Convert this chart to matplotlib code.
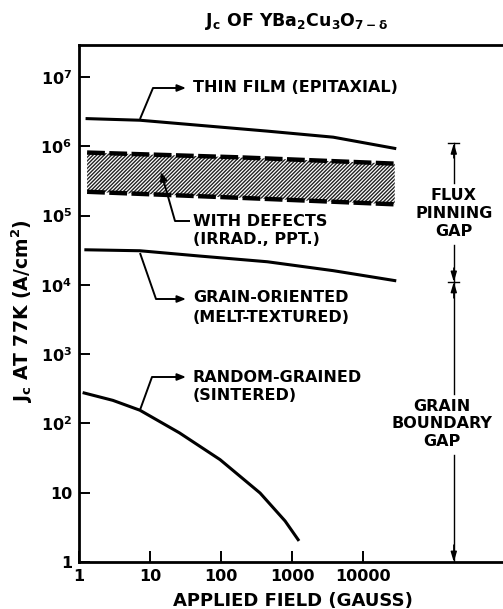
import numpy as np
import matplotlib
matplotlib.use("Agg")
import matplotlib.pyplot as plt

plt.rcParams["font.family"] = ["DejaVu Sans"]
plt.rcParams["font.weight"] = "bold"
plt.rcParams["axes.labelweight"] = "bold"
plt.rcParams["mathtext.default"] = "bf"
plt.rcParams["hatch.linewidth"] = 1.0

# values (field in gauss, Jc in A/cm^2)
thin_field = [1.3, 7.2, 50, 450, 3800, 28000]
thin_jc = [2.5e6, 2.37e6, 2.0e6, 1.65e6, 1.35e6, 9.3e5]

defect_field = [1.3, 185, 28000]
defect_hi = [8.1e5, 6.9e5, 5.6e5]
defect_lo = [2.2e5, 1.8e5, 1.45e5]

oriented_field = [1.25, 7.2, 50, 450, 3800, 28000]
oriented_jc = [3.2e4, 3.1e4, 2.6e4, 2.15e4, 1.6e4, 1.15e4]

random_field = [1.18, 3, 7.2, 26, 97, 355, 800, 1220]
random_jc = [275, 215, 155, 73, 30, 9.9, 3.9, 2.1]

x_ticks = [1, 10, 100, 1000, 10000]
x_labels = ["1", "10", "100", "1000", "10000"]
y_ticks = [1, 10, 1e2, 1e3, 1e4, 1e5, 1e6, 1e7]
y_labels = ["1", "10", "$10^2$", "$10^3$", "$10^4$", "$10^5$", "$10^6$", "$10^7$"]

flux_gap = (1.1e4, 1.1e6)
grain_gap = (1, 1.1e4)
gap_field = 1.9e5

# pixel layout of the reference plot
X0, XDEC = 79, 71.0
Y0, YDEC = 562, 69.3


def px(x, y):
    # reference pixel position -> data coordinates
    return 10 ** ((x - X0) / XDEC), 10 ** ((Y0 - y) / YDEC)


def leader(ax, pts):
    xs, ys = zip(*[px(*p) for p in pts])
    ax.plot(xs[:-1], ys[:-1], color="black", lw=1.4, solid_capstyle="butt",
            zorder=5)
    ax.annotate("", xy=(xs[-1], ys[-1]), xytext=(xs[-2], ys[-2]), zorder=5,
                arrowprops=dict(arrowstyle="-|>,head_length=0.5,head_width=0.2",
                                color="black", lw=1.4, shrinkA=0, shrinkB=0))


def arrow(ax, x0, y0, x1, y1):
    ax.annotate("", xy=(x1, y1), xytext=(x0, y0),
                arrowprops=dict(arrowstyle="-|>,head_length=0.6,head_width=0.18",
                                color="black", lw=1.0, shrinkA=0, shrinkB=0))


fig = plt.figure(figsize=(5.03, 6.09), dpi=100)
ax = fig.add_axes([X0 / 503, 1 - Y0 / 609, 1 - X0 / 503, (Y0 - 45) / 609])
ax.set_xscale("log")
ax.set_yscale("log")
ax.set_xlim(1, 10 ** ((503 - X0) / XDEC))
ax.set_ylim(1, 10 ** ((Y0 - 45) / YDEC))

ax.plot(thin_field, thin_jc, color="black", lw=2.2)
ax.plot(oriented_field, oriented_jc, color="black", lw=2.2)
ax.plot(random_field, random_jc, color="black", lw=2.2)

ax.fill_between(defect_field, defect_lo, defect_hi, facecolor="white",
                edgecolor="#222222", hatch="/////////", lw=0)
ax.plot(defect_field, defect_hi, color="black", lw=3.2, dashes=(4, 1.0))
ax.plot(defect_field, defect_lo, color="black", lw=3.2, dashes=(4, 1.0))

fs = 11.5
leader(ax, [(140, 119), (153, 88), (186, 88)])
ax.text(*px(193, 87), "THIN FILM (EPITAXIAL)", fontsize=fs, va="center")

leader(ax, [(190, 221), (175, 221), (161, 172)])
ax.text(*px(193, 221), "WITH DEFECTS", fontsize=fs, va="center")
ax.text(*px(193, 240), "(IRRAD., PPT.)", fontsize=fs, va="center")

leader(ax, [(140, 253), (156, 299), (186, 299)])
ax.text(*px(193, 298), "GRAIN-ORIENTED", fontsize=fs, va="center")
ax.text(*px(193, 318), "(MELT-TEXTURED)", fontsize=fs, va="center")

leader(ax, [(140, 410), (152, 377), (186, 377)])
ax.text(*px(193, 377), "RANDOM-GRAINED", fontsize=fs, va="center")
ax.text(*px(193, 396), "(SINTERED)", fontsize=fs, va="center")

# gap markers on the right
gx = gap_field
ax.plot([gx, gx], [px(0, 183)[1], flux_gap[1]], color="black", lw=1.0)
ax.plot([gx, gx], [grain_gap[1], px(0, 245)[1]], color="black", lw=1.0)
ax.plot([gx, gx], [px(0, 394)[1], grain_gap[1]], color="black", lw=1.0)
ax.plot([gx, gx], [grain_gap[0], px(0, 455)[1]], color="black", lw=1.0)
for yv in (flux_gap[1], grain_gap[1]):
    ax.plot([gx / 1.2, gx * 1.2], [yv, yv], color="black", lw=1.0)
arrow(ax, gx, px(0, 158)[1], gx, flux_gap[1])
arrow(ax, gx, px(0, 268)[1], gx, grain_gap[1])
arrow(ax, gx, px(0, 298)[1], gx, grain_gap[1])
arrow(ax, gx, px(0, 545)[1], gx, grain_gap[0])

ax.text(gx, px(0, 214)[1], "FLUX\nPINNING\nGAP", fontsize=fs,
        ha="center", va="center", linespacing=1.25)
ax.text(px(442, 0)[0], px(0, 424)[1], "GRAIN\nBOUNDARY\nGAP", fontsize=fs,
        ha="center", va="center", linespacing=1.2)

ax.set_xticks(x_ticks)
ax.set_xticklabels(x_labels)
ax.set_yticks(y_ticks)
ax.set_yticklabels(y_labels)
ax.minorticks_off()
ax.tick_params(direction="in", length=8, width=1.4, labelsize=11.5, pad=5)
ax.spines["right"].set_visible(False)
for s in ("left", "top", "bottom"):
    ax.spines[s].set_linewidth(2.0)

fig.text(293 / 503, 1 - 601 / 609, "APPLIED FIELD (GAUSS)", fontsize=13,
         ha="center", va="center")
fig.text(22 / 503, 1 - 311 / 609, "$J_c$ AT 77K (A/cm$^2$)", fontsize=13.5,
         rotation=90, ha="center", va="center")
fig.text(297 / 503, 1 - 22 / 609, "$J_c$ OF YBa$_2$Cu$_3$O$_{7-\\delta}$",
         fontsize=12.5, ha="center", va="center")

fig.savefig("out.png", dpi=100)
